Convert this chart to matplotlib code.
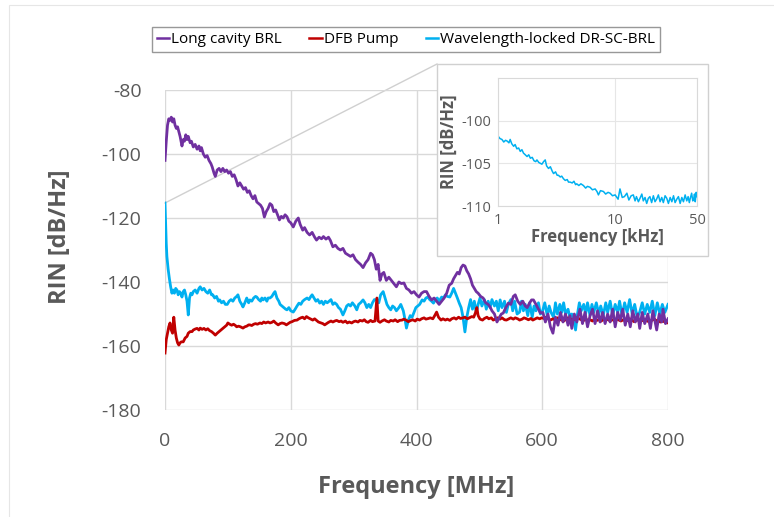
import matplotlib
matplotlib.use("Agg")
import matplotlib.pyplot as plt
from matplotlib.lines import Line2D
from matplotlib.patches import Rectangle

# ---------------- data ----------------
purple_f = [0,2,4,6,8,10,12,14,16,18,20,22,24,27,29,31,33,35,37,40,42,45,48,51,54,56,58,61,64,67,70,73,75,78,80,83,86,89,92,95,98,101,104,107,110,113,116,119,122,125,128,131,134,137,140,143,146,149,152,155,158,161,164,167,170,173,176,179,182,185,188,191,194,197,200,204,208,212,215,219,222,226,230,234,238,241,245,249,252,256,260,263,267,271,275,279,283,287,291,295,299,303,307,311,315,319,323,327,330,333,336,339,342,345,348,352,356,360,364,368,372,376,380,384,388,392,396,400,404,408,412,416,420,424,428,432,436,440,444,448,452,456,459,462,465,468,471,474,477,480,483,486,489,492,495,498,502,506,510,514,517,520,524,528,532,535,538,542,546,550,554,557,561,565,569,573,576,580,583,586,590,594,597,601,605,609,613,617,621,625,629,633,637,641,644,647,651,655,660,664,668,672,676,680,684,688,692,696,700,704,708,712,716,720,724,728,732,736,740,744,748,752,755,759,763,768,772,776,780,782,786,790,792,796,800]
purple_v = [-102,-96,-91,-89,-89.5,-88.5,-90,-89,-91,-92,-91.5,-93,-94.5,-97.5,-95.5,-96,-94,-95.5,-94.5,-96.5,-96,-97.8,-97,-98.5,-97.5,-99,-98,-100,-101,-100.5,-102,-103,-104,-106,-107,-105,-104.5,-105.5,-104.5,-105.5,-105,-106,-105.5,-107,-106.5,-108,-110,-109,-110,-111,-110.5,-112,-111.5,-113,-114,-113,-115,-115.5,-116,-117,-119.7,-118,-117,-115.5,-116,-118,-117.5,-119,-120.6,-119.5,-120,-119,-119.6,-121,-121.5,-122.8,-121,-120,-122,-123.8,-123,-124.5,-125.3,-124.5,-126,-126.9,-126,-126.5,-125.8,-126.6,-126,-127,-129,-128.5,-129.5,-130,-129.5,-131,-131.5,-132,-131.5,-133,-133.8,-134.5,-135.5,-134,-133,-131,-131.5,-133,-136,-134.5,-139.5,-137.5,-137,-139.5,-138.5,-139.5,-140.5,-141.5,-140,-140.5,-140.3,-142,-142.5,-143.5,-143,-144,-144.7,-143.5,-143,-143,-144.5,-145.6,-145,-146,-147,-146,-145,-143.5,-141,-140.4,-139,-138,-137,-137.5,-135.5,-134.7,-135,-136.5,-137.5,-139,-141,-142,-143,-143.5,-144.5,-145,-146.5,-147,-147.8,-149,-150,-152.5,-151,-150,-149.7,-148,-146.6,-147,-144.5,-144,-146,-147,-146,-147.5,-148,-146.5,-145.6,-145.6,-147,-148.5,-149.7,-149.5,-152.5,-150,-154,-156,-151,-153.5,-149.5,-152.5,-150,-153.5,-150.5,-154.5,-150,-152.5,-148.5,-153,-149.5,-154,-150.5,-148.5,-153,-149,-152.5,-149.5,-153,-150,-152.5,-148.5,-154,-149.5,-152,-148.5,-153.5,-150,-154,-149,-152.5,-150,-154.5,-149.5,-153,-150,-154.5,-149,-153,-155,-150,-152.5,-148.5,-153,-151.5]

red_f = [0,2,4,6,8,10,12,14,16,18,20,22,24,26,29,32,35,37,40,43,45,48,51,54,56,59,62,65,68,71,74,77,80,83,86,89,92,95,98,100,103,106,109,112,114,117,120,124,127,130,133,135,138,141,144,147,151,154,157,160,164,167,170,173,176,180,183,186,190,193,196,199,202,206,210,213,216,219,222,225,228,231,235,238,241,244,248,251,254,257,260,264,267,270,273,277,280,283,287,290,293,297,300,303,307,310,314,317,320,323,327,330,334,337,339,342,345,349,352,356,359,363,366,370,373,377,380,384,387,391,394,398,401,405,408,412,415,419,422,426,429,432,435,439,442,446,449,453,456,460,463,467,470,474,477,481,484,488,491,494,496,498,501,505,508,512,515,519,522,526,529,533,536,540,543,547,550,554,557,561,564,568,571,575,578,582,585,589,592,596,599,603,606,610,613,617,620,624,627,631,634,638,641,645,648,652,655,659,662,666,669,673,676,680,683,687,690,694,697,701,704,708,711,715,718,722,725,729,732,736,739,743,746,750,753,757,760,764,767,771,774,778,781,785,788,792,795,800]
red_v = [-162.2,-158,-156,-154,-152.8,-155,-156,-151,-155,-157.5,-159,-159.7,-159,-158.7,-158.7,-157.5,-157,-156,-155.5,-155.5,-155,-154.7,-154.5,-155,-154.4,-154.8,-154.5,-155,-154.6,-155.2,-155.5,-156,-156.6,-156,-155.5,-155,-154.5,-154,-153.5,-152.8,-153.2,-153.5,-153.2,-153.6,-154,-153.8,-154,-154.4,-154,-153.8,-153.4,-153.4,-153.6,-153.2,-153,-153.2,-152.8,-153,-152.5,-152.8,-152.5,-152.8,-152.6,-152.2,-152.8,-153.4,-153,-152.8,-153,-153.4,-153,-152.6,-152.4,-152,-151.9,-151.5,-151.2,-151,-151.5,-150.8,-151.2,-151.5,-151.9,-151.5,-152,-152.5,-152.8,-153,-153.4,-153,-152.6,-152.2,-152.5,-152.2,-152,-152.4,-152.2,-152.6,-152.2,-152.8,-152.5,-152.8,-152.4,-152.2,-152.5,-152,-152.2,-151.8,-152.4,-152.6,-152,-152.4,-152.2,-145,-152.2,-152.6,-152.2,-151.8,-152.2,-152.5,-152,-152.2,-151.8,-152.4,-152,-151.9,-151.6,-152,-152.4,-152,-151.8,-152.2,-151.6,-151.9,-151.5,-151.2,-151.6,-151.4,-151.2,-151.5,-150.5,-149.4,-151,-151.9,-151.5,-151.9,-151.6,-152,-151.5,-151.2,-151.6,-151,-151.4,-151.2,-151,-151.5,-151.2,-150.8,-151,-149.5,-148,-150.5,-151.6,-151.9,-151.4,-151,-151.5,-151.2,-151.9,-151.5,-151.2,-151.6,-151.2,-151.8,-151.9,-151.5,-151.2,-151.6,-151.2,-151.5,-151.9,-151.6,-151.2,-151.5,-151.8,-151.4,-151.9,-151.5,-151.2,-151.5,-151.2,-151.4,-151,-151.5,-151.9,-151.5,-151.8,-151.2,-151.6,-151.9,-152.2,-151.6,-151.2,-151.5,-151.9,-151.6,-151.2,-151.5,-151.8,-152,-151.6,-152,-151.8,-152.2,-151.6,-152,-151.8,-152.2,-151.6,-152,-151.6,-152.2,-151.8,-152,-151.6,-151.9,-152.2,-151.8,-152.2,-152,-151.5,-151.9,-152.4,-152,-151.8,-152.2,-152,-151.8,-152.2,-152.5,-152,-151.6,-152,-152.2,-152.5,-152.2,-152.5,-152.8]

cyan_f = [0,1,2,3,4,5,7,9,11,13,15,17,19,21,23,25,27,29,31,33,35,37,39,41,43,45,48,51,54,56,59,62,65,68,71,74,76,79,82,85,87,90,93,96,99,102,105,108,111,114,116,119,122,124,127,130,133,135,138,141,144,146,149,152,154,156,159,162,164,167,170,173,175,178,181,183,186,189,192,194,197,200,204,207,210,213,216,219,222,226,229,232,234,237,240,243,246,249,252,255,258,261,264,267,270,273,276,279,283,286,289,292,295,298,302,305,308,311,315,318,321,324,327,330,333,337,340,343,347,350,353,356,359,362,365,368,372,375,379,382,384,387,390,393,396,399,402,405,409,412,415,418,421,424,427,430,433,436,440,443,446,449,453,456,459,462,465,468,471,474,477,480,483,486,489,492,495,498,501,504,508,511,514,517,520,524,527,530,533,536,540,543,546,550,553,556,560,564,567,570,573,577,580,584,587,590,594,597,600,604,608,611,614,618,621,624,628,631,634,637,641,644,647,650,653,656,659,662,666,669,672,676,679,682,686,690,693,697,701,704,708,712,716,720,723,727,731,735,739,743,747,751,755,759,763,767,771,775,779,783,787,791,795,800]
cyan_v = [-115.3,-122,-128,-132,-134,-136,-139,-141.5,-143.5,-142.5,-143.5,-142,-142.5,-144,-143,-143.5,-144.7,-143,-142.5,-144,-146,-150.3,-145,-143.5,-144,-143,-142.5,-143.5,-142,-141.5,-142.5,-142,-143,-143.5,-142.5,-144,-144,-145,-144.5,-146,-145.6,-146.5,-146,-147,-147,-146,-145.5,-146,-145,-144.5,-144,-146,-147,-147.8,-146.5,-145,-146.5,-145.6,-146,-145,-144.5,-144.7,-145.5,-146,-145,-145.6,-145,-146,-145,-145,-144.5,-143.5,-143,-145,-146,-147,-147.5,-148,-148.5,-148.7,-148,-149,-149.4,-148.5,-147.5,-146.6,-147,-146,-145.5,-145,-145.5,-144.5,-144,-145,-146,-145.5,-146.6,-146,-147,-146,-146.5,-146,-145.5,-147,-146.5,-147,-148,-148.5,-150.3,-149,-147.5,-147,-147.5,-146.5,-147.5,-148.7,-147,-146.5,-145.6,-146.5,-148,-147,-148,-146.5,-145.5,-145.6,-146.5,-144,-143,-145,-147,-148,-148.7,-147.5,-148,-149,-148,-147,-149,-152,-154.4,-152,-150.5,-151,-149.5,-148,-147.5,-147,-145.6,-146,-145,-144.7,-145.5,-146,-146.6,-145.5,-145,-146,-144.7,-145,-144,-144.5,-144.7,-143.5,-142,-143.5,-145,-146.6,-148,-151,-155.6,-151,-148,-145.5,-148.5,-146,-149.5,-147,-145,-147.5,-145.5,-148.5,-146,-148,-145.5,-147.5,-146,-149,-145.6,-148,-146,-149.5,-147,-145.5,-149,-146,-150,-149.4,-146,-149,-147,-150.5,-146.5,-151,-147.5,-149,-146.5,-150,-149.4,-146.5,-150.5,-147.5,-149.5,-151,-146.5,-150,-147,-149.5,-146.5,-150,-148.5,-151,-150,-152,-155,-150,-146.5,-149,-147,-150,-146.5,-150.5,-147,-149.5,-146.5,-150,-147.5,-150.5,-146.5,-149.5,-146,-150.5,-147,-149.5,-146,-150.5,-146.5,-149.5,-145.5,-150,-147,-151,-149.4,-146.5,-150,-147,-149.5,-146,-150.5,-146.5,-150,-147,-149.5,-147]

inset_f = [1.0,1.04,1.08,1.12,1.16,1.2,1.24,1.27,1.31,1.36,1.4,1.45,1.5,1.55,1.6,1.65,1.71,1.77,1.83,1.89,1.96,2.03,2.1,2.15,2.23,2.3,2.37,2.45,2.53,2.6,2.7,2.8,2.9,2.98,3.1,3.2,3.28,3.4,3.5,3.62,3.75,3.9,4.0,4.13,4.3,4.45,4.6,4.7,4.9,5.1,5.36,5.6,5.8,6.1,6.4,6.75,7.0,7.2,7.5,7.95,8.3,8.7,9.06,9.5,10.0,10.6,11.0,11.5,12.0,12.6,13.1,13.7,14.3,14.8,15.2,15.8,16.3,16.9,17.4,18.0,18.6,19.2,19.8,20.5,21.2,21.9,22.6,23.4,24.2,25.0,25.8,26.7,27.6,28.5,29.5,30.5,31.5,32.5,33.6,34.7,35.9,37.1,38.3,39.6,40.9,42.0,43.0,44.0,45.0,46.0,46.8,47.6,48.3,49.2,50.0]
inset_v = [-101.8,-102.1,-102.2,-102.5,-102.3,-102.4,-102.6,-102.2,-102.7,-103.0,-102.8,-103.3,-103.2,-103.6,-103.4,-103.8,-104.0,-104.2,-104.0,-104.4,-104.3,-104.7,-104.8,-104.6,-104.9,-105.0,-105.1,-104.8,-104.6,-105.3,-105.6,-105.4,-105.9,-106.2,-106.0,-106.4,-106.4,-106.6,-106.5,-106.8,-107.0,-106.9,-107.2,-107.2,-107.3,-107.1,-107.5,-107.4,-107.6,-107.4,-107.6,-107.9,-107.7,-107.8,-108.1,-108.0,-108.3,-108.7,-108.2,-108.3,-108.6,-108.4,-108.5,-108.8,-108.7,-109.2,-108.0,-109.0,-108.9,-108.5,-109.3,-108.8,-108.7,-109.4,-108.9,-109.5,-109.1,-108.6,-109.4,-109.0,-109.7,-109.1,-108.9,-109.6,-108.8,-109.5,-109.2,-108.7,-109.5,-109.0,-109.6,-108.8,-109.1,-109.7,-109.0,-109.5,-108.8,-109.6,-109.2,-108.9,-109.7,-109.0,-109.5,-108.7,-109.4,-108.9,-109.6,-109.0,-108.5,-109.4,-109.2,-108.6,-109.5,-108.4,-108.9]

x_ticks = [0, 200, 400, 600, 800]
y_ticks = [-180, -160, -140, -120, -100, -80]
inset_xticks = [1, 10, 50]
inset_yticks = [-110, -105, -100]

labels = ["Long cavity BRL", "DFB Pump", "Wavelength-locked DR-SC-BRL"]
colors = ["#7030A0", "#C00000", "#00B0F0"]

# ---------------- figure ----------------
plt.rcParams['font.family'] = ['Open Sans', 'DejaVu Sans']
plt.rcParams['axes.unicode_minus'] = False
W, H = 774, 517
fig = plt.figure(figsize=(W / 100, H / 100), dpi=100)
fig.patch.set_facecolor("white")

def fx(px):
    return px / W

def fy(py):
    return 1 - py / H

tick_color = "#595959"
grid_color = "#D9D9D9"

# faint outer frame
fig.add_artist(Rectangle((fx(9), fy(540)), fx(780) - fx(9), fy(5) - fy(540),
                         transform=fig.transFigure, fill=False,
                         edgecolor="#E6E6E6", lw=0.8, zorder=-5))

ax = fig.add_axes([fx(165), fy(410), fx(668) - fx(165), fy(90) - fy(410)])
ax.patch.set_alpha(0)
ax.plot(cyan_f, cyan_v, color=colors[2], lw=2.0, label=labels[2], zorder=3)
ax.plot(red_f, red_v, color=colors[1], lw=2.0, label=labels[1], zorder=4)
ax.plot(purple_f, purple_v, color=colors[0], lw=2.0, label=labels[0], zorder=5)
ax.set_xlim(0, 800)
ax.set_ylim(-180, -80)
ax.set_xticks(x_ticks)
ax.set_yticks(y_ticks)
ax.grid(True, color=grid_color, lw=1.0)
ax.set_axisbelow(True)
for s in ax.spines.values():
    s.set_visible(False)
ax.tick_params(length=0, labelsize=14, colors=tick_color)
ax.tick_params(axis='y', pad=17)
ax.tick_params(axis='x', pad=16)
ax.set_xlabel("Frequency [MHz]", fontsize=17, fontweight="bold", color=tick_color, labelpad=18)
ax.set_ylabel("RIN [dB/Hz]", fontsize=17, fontweight="bold", color=tick_color, labelpad=6)
ax.yaxis.set_label_coords(-0.185, 0.54)

# legend
handles = [Line2D([], [], color=c, lw=1.8) for c in colors]
leg = fig.legend(handles, labels, loc="center", bbox_to_anchor=(fx(406), fy(39.5)),
                 ncol=3, fontsize=11, frameon=True, fancybox=False,
                 handlelength=0.8, handletextpad=0.15, columnspacing=1.8,
                 borderpad=0.3, edgecolor="#7F7F7F")
leg.get_frame().set_linewidth(1.0)

# connector line
fig.add_artist(Line2D([fx(165), fx(437)], [fy(203), fy(64)], transform=fig.transFigure,
                      color="#D0D0D0", lw=1.0, zorder=-1))

# inset frame
fig.add_artist(Rectangle((fx(437), fy(256)), fx(708) - fx(437), fy(64) - fy(256),
                         transform=fig.transFigure, facecolor="white",
                         edgecolor="#D0D0D0", lw=1.0, zorder=2))

axi = fig.add_axes([fx(498), fy(206), fx(697) - fx(498), fy(78) - fy(206)], zorder=3)
axi.plot(inset_f, inset_v, color=colors[2], lw=1.1)
axi.set_xscale("log")
axi.set_xlim(1, 50)
axi.set_ylim(-110, -95)
axi.set_xticks(inset_xticks)
axi.set_xticklabels([str(v) for v in inset_xticks])
axi.xaxis.set_minor_locator(matplotlib.ticker.NullLocator())
axi.set_yticks(inset_yticks)
axi.grid(True, color="#E6E6E6", lw=0.8)
axi.set_axisbelow(True)
for s in axi.spines.values():
    s.set_color("#D9D9D9")
    s.set_linewidth(0.8)
axi.tick_params(length=0, labelsize=10.5, colors=tick_color, pad=5)
axi.set_xlabel("Frequency [kHz]", fontsize=12, fontweight="bold", color=tick_color, labelpad=0)
axi.set_ylabel("RIN [dB/Hz]", fontsize=12, fontweight="bold", color=tick_color, labelpad=2)

fig.savefig("out.png", dpi=100)
